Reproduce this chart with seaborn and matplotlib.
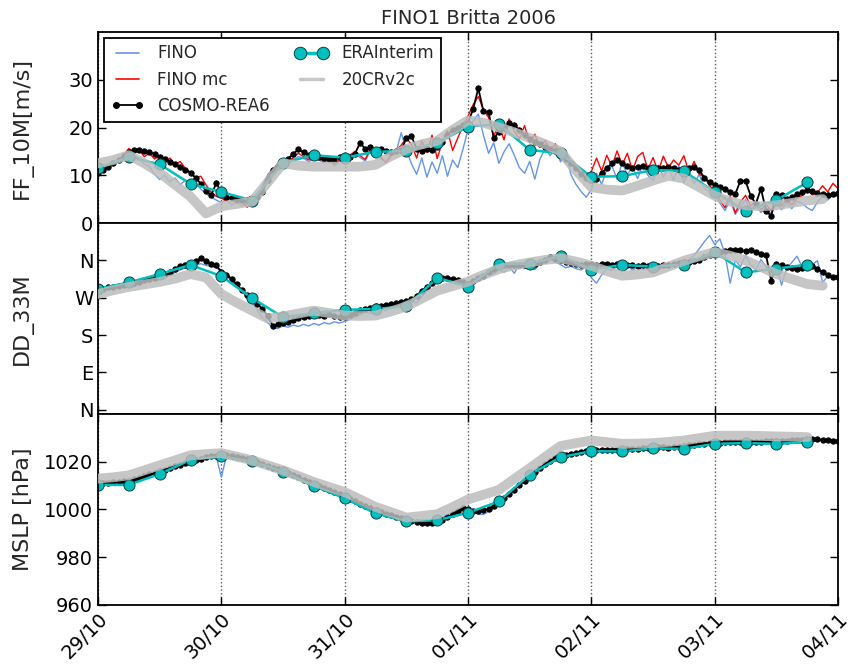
import matplotlib
matplotlib.use("Agg")
import matplotlib.pyplot as plt
import matplotlib.dates as mdates
from matplotlib.lines import Line2D
import numpy as np
import pandas as pd
import seaborn as sns

# ---------------------------------------------------------------------------
# Data
# ---------------------------------------------------------------------------
nan = np.nan
hours = pd.date_range("2006-10-29 00:00", "2006-11-04 00:00", freq="h")  # hourly
era_times = pd.date_range("2006-10-29 00:00", periods=24, freq="6h")
cr_times = pd.date_range("2006-10-29 00:00", periods=48, freq="3h")

# wind speed 10 m [m/s]
ff_fino = [
    10.4, 11.6, 11.2, 12.4, 12.8, 13.6, 15.0, 14.2, 13.5, 12.3, 11.8, 10.2,
    9.1, 10.0, 8.6, 9.4, 8.1, 8.9, 7.6, 8.4, 7.1, 6.2, 5.4, 4.8,
    4.3, 4.9, 3.8, 4.5, 3.6, 4.2, 4.7, 5.5, 7.8, 10.1, 11.4, 12.1,
    12.9, 12.5, 13.4, 13.9, 13.6, 12.8, 13.7, 13.2, 12.6, 13.1, 12.0, 12.9,
    13.4, 13.8, 14.6, 13.7, 13.0, 15.1, 14.3, 13.5, 12.9, 14.2, 14.8, 18.9,
    15.3, 12.4, 10.2, 13.6, 9.6, 12.8, 10.4, 14.1, 9.8, 13.2, 11.6, 15.4,
    19.6, 21.4, 22.8, 18.4, 14.6, 16.8, 12.5, 14.9, 16.6, 14.2, 11.6, 10.4,
    12.9, 9.2, 13.4, 15.6, 14.1, 15.9, 12.8, 14.6, 10.2, 8.1, 6.6, 5.4,
    7.0, 10.4, 8.1, 11.2, 12.0, 9.2, 12.6, 10.1, 11.8, 9.3, 12.2, 10.0,
    8.9, 12.1, 9.6, 11.6, 9.0, 12.0, 8.4, 10.9, 8.3, 10.2, 7.2, 6.6,
    5.9, 4.2, 2.6, 4.8, 1.8, 3.4, 4.9, 2.6, 3.8, 2.2, 3.3, 1.9,
    4.1, 2.8, 4.2, 3.0, 4.6, 4.1, 3.2, 2.6, 4.4, 5.6, 4.8, 5.9,
    5.5,
]
ff_fino_mc = [
    10.8, 12.0, 11.5, 13.0, 12.6, 14.2, 15.6, 14.8, 15.3, 13.9, 14.6, 13.4,
    14.1, 12.8, 13.6, 12.2, 12.9, 11.4, 10.6, 9.4, 9.8, 8.0, 6.5, 5.6,
    5.2, 4.6, 5.5, 4.1, 4.8, 3.3, 4.0, 5.2, 7.5, 9.8, 11.2, 12.4,
    13.0, 12.2, 13.8, 14.6, 13.9, 13.2, 14.4, 13.6, 12.8, 13.5, 12.3, 13.2,
    13.8, 14.2, 15.0, 14.1, 13.3, 15.6, 14.7, 13.9, 12.6, 14.0, 15.2, 16.3,
    17.8, 16.4, 13.6, 17.2, 14.8, 18.4, 13.5, 16.9, 19.4, 15.2, 17.8, 20.3,
    22.4, 24.8, 26.5, 23.7, 22.1, 18.2, 20.6, 17.4, 21.8, 19.2, 17.6, 20.4,
    16.8, 18.6, 15.9, 17.3, 15.2, 16.6, 14.3, 14.8, 12.9, 11.6, 10.4, 9.5,
    10.8, 13.6, 10.9, 14.2, 11.8, 15.1, 12.2, 14.6, 11.0, 13.9, 14.8, 11.2,
    13.7, 10.8, 14.0, 11.6, 13.2, 12.1, 14.1, 10.6, 12.9, 10.2, 9.6, 7.8,
    6.8, 4.9, 3.2, 5.6, 2.1, 4.4, 5.8, 3.6, 4.5, 2.8, 3.9, 2.6,
    4.8, 3.5, 4.9, 3.8, 5.2, 5.7, 6.9, 5.9, 6.4, 7.8, 6.5, 8.3,
    7.2,
]
ff_cosmo = [
    10.5, 11.0, 11.8, 12.5, 13.2, 14.0, 14.8, 15.3, 15.2, 15.0, 14.8, 14.5,
    13.8, 13.3, 12.8, 12.3, 11.8, 11.2, 10.5, 9.5, 8.2, 6.8, 5.8, 8.3,
    6.5, 5.5, 5.2, 5.0, 4.8, 4.8, 5.0, 5.5, 6.5, 9.0, 11.2, 12.0,
    12.8, 13.5, 14.5, 15.4, 14.8, 14.2, 13.8, 13.9, 13.6, 13.3, 13.5, 13.8,
    13.5, 13.8, 14.5, 16.8, 15.5, 16.0, 15.3, 15.6, 15.0, 14.8, 15.0, 15.2,
    17.8, 18.2, 15.5, 15.0, 15.5, 15.3, 16.0, 17.0, 18.5, 19.5, 20.0, 20.5,
    21.0, 23.9, 28.2, 23.4, 23.2, 17.8, 19.0, 19.8, 20.9, 20.5, 19.5, 18.5,
    17.5, 17.0, 16.5, 16.0, 15.5, 15.1, 14.5, 13.5, 12.5, 11.5, 10.2, 9.5,
    9.0, 9.2, 10.5, 11.5, 12.5, 13.2, 12.5, 12.0, 11.5, 11.8, 12.0, 11.5,
    11.3, 11.6, 11.5, 11.8, 11.5, 11.2, 11.0, 11.5, 11.7, 11.0, 9.5, 8.5,
    8.0, 7.5, 7.2, 6.5, 6.0, 8.9, 8.8, 5.7, 4.0, 7.2, 2.5, 1.5,
    6.0, 5.8, 5.0, 5.5, 6.0, 6.5, 7.0, 6.8, 6.2, 6.0, 5.8, 6.0,
    6.2,
]
ff_era = [
    11.5, 13.8, 12.3, 8.2, 6.5, 4.7, 12.6, 14.2,
    13.7, 14.9, 15.1, 16.8, 20.2, 20.7, 15.3, 14.6,
    9.7, 9.8, 11.1, 10.9, 6.5, 2.5, 4.8, 8.5,
]
ff_20cr = [
    12.5, 13.2, 14.2, 12.5, 10.5, 8.0, 5.5, 2.0,
    3.5, 4.0, 4.5, 8.5, 12.5, 12.0, 11.8, 11.8,
    11.8, 11.8, 12.2, 14.0, 15.5, 16.5, 17.2, 19.5,
    21.5, 21.0, 20.0, 19.0, 17.8, 16.5, 15.0, 11.0,
    7.5, 7.0, 6.8, 7.8, 8.9, 9.9, 9.3, 7.5,
    5.7, 4.5, 3.7, 3.5, 3.7, 4.2, 4.7, 5.0,
]

# wind direction 33 m [deg]
dd_fino = [
    286, 289, 291, 292, 295, 297, 299, 302, 304, 306, 310, 312,
    316, 320, 325, 331, 337, 342, 345, 349, 352, 348, 346, 342,
    332, 322, 312, 298, 286, 272, 258, 240, 222, 210, 198, 196,
    202, 199, 204, 201, 206, 202, 208, 204, 210, 207, 212, 209,
    213, 218, 224, 229, 236, 232, 240, 245, 238, 248, 252, 246,
    256, 262, 258, 272, 288, 300, 310, 312, 316, 313, 308, 304,
    300, 305, 312, 320, 335, 326, 338, 331, 345, 329, 350, 340,
    344, 338, 352, 360, 364, 356, 350, 342, 346, 340, 337, 345,
    318, 305, 325, 340, 336, 345, 341, 348, 336, 344, 338, 347,
    343, 337, 346, 350, 348, 356, 355, 360, 372, 388, 405, 420,
    398, 412, 375, 305, 360, 345, 372, 350, 338, 362, 345, 330,
    352, 300, 340, 355, 370, 345, 335, 350, 359, 307, 322, 318,
    325,
]
dd_cosmo = [
    290, 292, 295, 297, 299, 301, 304, 306, 309, 312, 315, 318,
    322, 327, 333, 340, 346, 348, 352, 358, 365, 358, 352, 348,
    333, 325, 316, 302, 288, 276, 267, 255, 243, 225, 203, 206,
    208, 212, 216, 220, 223, 226, 231, 229, 227, 230, 226, 224,
    223, 228, 234, 240, 244, 246, 249, 251, 253, 255, 257, 259,
    262, 266, 275, 287, 296, 306, 315, 317, 318, 316, 312, 308,
    303, 310, 318, 323, 332, 340, 347, 349, 350, 349, 350, 349,
    349, 352, 356, 362, 367, 364, 360, 356, 353, 351, 350, 351,
    351, 350, 352, 351, 350, 351, 351, 349, 348, 347, 348, 347,
    346, 347, 348, 349, 352, 354, 355, 356, 358, 362, 368, 372,
    376, 380, 382, 384, 385, 384, 383, 384, 380, 376, 372, 311,
    351, 348, 345, 342, 339, 342, 345, 347, 340, 331, 324, 319,
    319,
]
dd_era = [
    291, 307, 327, 349, 322, 269, 223, 233,
    241, 243, 249, 318, 297, 352, 352, 370,
    338, 349, 345, 350, 380, 331, 340, 350,
]
dd_20cr = [
    279, 288, 296, 302, 308, 316, 327, 319,
    279, 258, 239, 220, 225, 232, 239, 233,
    227, 226, 227, 237, 249, 268, 287, 298,
    309, 325, 339, 348, 355, 361, 365, 357,
    347, 334, 323, 326, 331, 345, 359, 370,
    380, 371, 360, 344, 327, 315, 303, 299,
]

# mean sea level pressure [hPa]
slp_fino = [
    1010.8, 1011.0, 1011.2, 1011.3, 1011.5, 1011.7, 1011.9, 1012.4, 1013.1, 1013.8, 1014.5, 1015.1,
    1015.8, 1016.5, 1017.2, 1017.9, 1018.6, 1019.3, 1020.0, 1020.6, 1021.1, 1021.6, 1022.0, 1022.3,
    1013.5, 1022.5, 1022.3, 1021.9, 1021.5, 1021.0, 1020.4, 1019.7, 1018.9, 1018.1, 1017.3, 1016.6,
    1015.9, 1015.0, 1014.1, 1013.2, 1012.3, 1011.4, 1010.5, 1009.6, 1008.8, 1008.0, 1007.1, 1006.2,
    1005.3, 1004.3, 1003.3, 1002.3, 1001.3, 1000.4, 999.6, 998.8, 998.1, 997.4, 996.8, 996.2,
    995.6, 995.1, 994.7, 994.4, 994.4, 994.8, 995.6, 996.6, 997.8, 999.0, 1000.2, 1001.0,
    1000.8, 999.0, 998.0, 997.9, 999.2, 1000.9, 1002.7, 1004.5, 1006.3, 1008.1, 1010.0, 1011.9,
    1013.8, 1015.6, 1017.3, 1018.8, 1020.1, 1021.2, 1022.0, 1022.6, 1023.1, 1023.6, 1024.0, 1024.3,
    1024.6, 1024.8, 1024.9, 1024.8, 1024.8, 1024.9, 1025.0, 1025.1, 1025.2, 1025.3, 1025.4, 1025.6,
    1025.7, 1025.8, 1025.8, 1025.7, 1025.8, 1026.0, 1026.3, 1026.6, 1026.9, 1027.2, 1027.4, 1027.6,
    1027.7, 1027.8, 1027.9, 1027.9, 1028.0, 1028.0, 1028.1, 1028.1, 1028.2, 1028.2, 1028.3, 1028.3,
    1028.4, 1028.5, 1028.6, 1028.8, 1029.0, 1029.1, 1029.2, 1029.3, 1029.2, 1029.0, 1028.8, 1028.6,
    1028.4,
]
slp_cosmo = [
    1011.0, 1011.2, 1011.3, 1011.5, 1011.6, 1011.8, 1012.0, 1012.6, 1013.3, 1014.0, 1014.7, 1015.3,
    1016.0, 1016.7, 1017.4, 1018.1, 1018.8, 1019.5, 1020.2, 1020.8, 1021.3, 1021.8, 1022.2, 1022.5,
    1022.8, 1022.7, 1022.5, 1022.1, 1021.7, 1021.2, 1020.6, 1019.9, 1019.1, 1018.3, 1017.5, 1016.8,
    1016.1, 1015.2, 1014.3, 1013.4, 1012.5, 1011.6, 1010.7, 1009.8, 1009.0, 1008.2, 1007.3, 1006.4,
    1005.5, 1004.5, 1003.5, 1002.5, 1001.5, 1000.6, 999.8, 999.0, 998.3, 997.6, 997.0, 996.4,
    995.8, 995.3, 994.9, 994.5, 994.3, 994.5, 995.0, 995.8, 996.8, 998.0, 999.5, 1000.8,
    1000.2, 999.4, 999.2, 999.6, 1000.3, 1001.4, 1003.0, 1004.7, 1006.5, 1008.3, 1010.2, 1012.1,
    1014.0, 1015.8, 1017.5, 1019.0, 1020.3, 1021.4, 1022.2, 1022.8, 1023.3, 1023.8, 1024.2, 1024.5,
    1024.8, 1025.0, 1025.1, 1025.0, 1025.0, 1025.1, 1025.2, 1025.3, 1025.4, 1025.5, 1025.6, 1025.8,
    1025.9, 1026.0, 1026.0, 1025.9, 1026.0, 1026.2, 1026.5, 1026.8, 1027.1, 1027.4, 1027.6, 1027.8,
    1027.9, 1028.0, 1028.1, 1028.1, 1028.2, 1028.2, 1028.3, 1028.3, 1028.4, 1028.4, 1028.5, 1028.5,
    1028.6, 1028.7, 1028.8, 1029.0, 1029.2, 1029.3, 1029.4, 1029.5, 1029.4, 1029.2, 1029.0, 1028.8,
    1028.6,
]
slp_era = [
    1010.3, 1010.3, 1014.9, 1020.8, 1022.2, 1020.1, 1015.9, 1009.9,
    1004.7, 998.4, 995.0, 995.5, 998.6, 1003.4, 1014.6, 1021.9,
    1024.4, 1024.3, 1025.6, 1025.4, 1027.5, 1027.8, 1027.5, 1028.2,
]
slp_20cr = [
    1012.9, 1013.5, 1014.3, 1016.4, 1018.5, 1020.6, 1022.7, 1023.2,
    1023.6, 1022.1, 1020.6, 1018.5, 1016.4, 1014.0, 1011.5, 1009.4,
    1007.3, 1004.2, 1001.1, 998.9, 996.6, 997.3, 998.0, 1001.0,
    1004.2, 1006.2, 1008.2, 1012.8, 1017.3, 1022.0, 1026.6, 1027.8,
    1028.9, 1028.2, 1027.5, 1027.6, 1027.8, 1028.3, 1028.9, 1029.9,
    1030.9, 1030.9, 1030.9, 1030.8, 1030.6, 1030.5, 1030.3, nan,
]

dir_ticks = [0, 90, 180, 270, 360]
dir_labels = ["N", "E", "S", "W", "N"]

# ---------------------------------------------------------------------------
# Style
# ---------------------------------------------------------------------------
sns.set_style("ticks")
plt.rcParams.update({
    "font.family": ["DejaVu Sans"],
    "axes.linewidth": 1.3,
    "axes.edgecolor": "black",
    "xtick.direction": "in",
    "ytick.direction": "in",
    "xtick.top": True,
    "ytick.right": True,
    "xtick.major.size": 6,
    "ytick.major.size": 6,
    "xtick.major.width": 1.0,
    "ytick.major.width": 1.0,
    "xtick.color": "black",
    "ytick.color": "black",
})

C_FINO = "cornflowerblue"
C_FINOMC = "red"
C_COSMO = "black"
C_ERA = "c"
C_20CR = "#bcbcbc"
TICK_FONT = ["Liberation Sans Narrow", "DejaVu Sans"]

fig, axes = plt.subplots(3, 1, figsize=(8.62, 6.67), dpi=100, sharex=True)
fig.subplots_adjust(left=0.1137, right=0.9722, top=0.952, bottom=0.093, hspace=0)


def draw_panel(ax, obs, cosmo, era, cr, obs_mc=None):
    sns.lineplot(x=hours, y=obs, ax=ax, color=C_FINO, lw=1.0, estimator=None)
    if obs_mc is not None:
        sns.lineplot(x=hours, y=obs_mc, ax=ax, color=C_FINOMC, lw=1.0, estimator=None)
    sns.lineplot(x=hours, y=cosmo, ax=ax, color=C_COSMO, lw=1.3, marker="o",
                 markersize=3.8, markeredgecolor=C_COSMO, estimator=None)
    sns.lineplot(x=era_times, y=era, ax=ax, color=C_ERA, lw=1.8, marker="o",
                 markersize=8, markeredgecolor="#104040", markeredgewidth=0.7,
                 estimator=None)
    sns.lineplot(x=cr_times, y=cr, ax=ax, color=C_20CR, lw=7, alpha=0.85,
                 estimator=None, zorder=5)
    ax.grid(axis="x", linestyle=":", color="0.35", lw=1.0)
    ax.grid(axis="y", visible=False)
    ax.tick_params(labelsize=14, labelfontfamily=TICK_FONT)


draw_panel(axes[0], ff_fino, ff_cosmo, ff_era, ff_20cr, obs_mc=ff_fino_mc)
draw_panel(axes[1], dd_fino, dd_cosmo, dd_era, dd_20cr)
draw_panel(axes[2], slp_fino, slp_cosmo, slp_era, slp_20cr)

axes[0].set_ylim(0, 40)
axes[0].set_yticks([0, 10, 20, 30])
axes[0].set_ylabel("FF_10M[m/s]", fontsize=16)
axes[0].set_title("FINO1 Britta 2006", fontsize=14)

axes[1].set_ylim(-10, 450)
axes[1].set_yticks(dir_ticks)
axes[1].set_yticklabels(dir_labels)
axes[1].set_ylabel("DD_33M", fontsize=16)

axes[2].set_ylim(960, 1040)
axes[2].set_yticks([960, 980, 1000, 1020])
axes[2].set_ylabel("MSLP [hPa]", fontsize=16)

for ax in axes:
    ax.yaxis.set_label_coords(-0.088, 0.5)
    ax.set_xlabel("")

axes[2].set_xlim(pd.Timestamp("2006-10-29"), pd.Timestamp("2006-11-04"))
axes[2].xaxis.set_major_locator(mdates.DayLocator())
axes[2].xaxis.set_major_formatter(mdates.DateFormatter("%d/%m"))
plt.setp(axes[2].get_xticklabels(), rotation=45, ha="right", rotation_mode="anchor")

handles = [
    Line2D([], [], color=C_FINO, lw=1.2),
    Line2D([], [], color=C_FINOMC, lw=1.2),
    Line2D([], [], color=C_COSMO, lw=1.3, marker="o", markersize=4),
    Line2D([], [], color=C_ERA, lw=2.5, marker="o", markersize=9,
           markeredgecolor="#104040", markeredgewidth=0.7),
    Line2D([], [], color="#c8c8c8", lw=2.5),
]
labels = ["FINO", "FINO mc", "COSMO-REA6", "ERAInterim", "20CRv2c"]
leg = axes[0].legend(handles, labels, ncol=2, loc="upper left",
                     bbox_to_anchor=(0.008, 0.97), borderaxespad=0,
                     fontsize=12, numpoints=2, frameon=True, fancybox=False,
                     framealpha=1, edgecolor="black", columnspacing=1.5)
leg.get_frame().set_linewidth(1.3)
leg.set_zorder(10)

fig.savefig("out.png", dpi=100)
